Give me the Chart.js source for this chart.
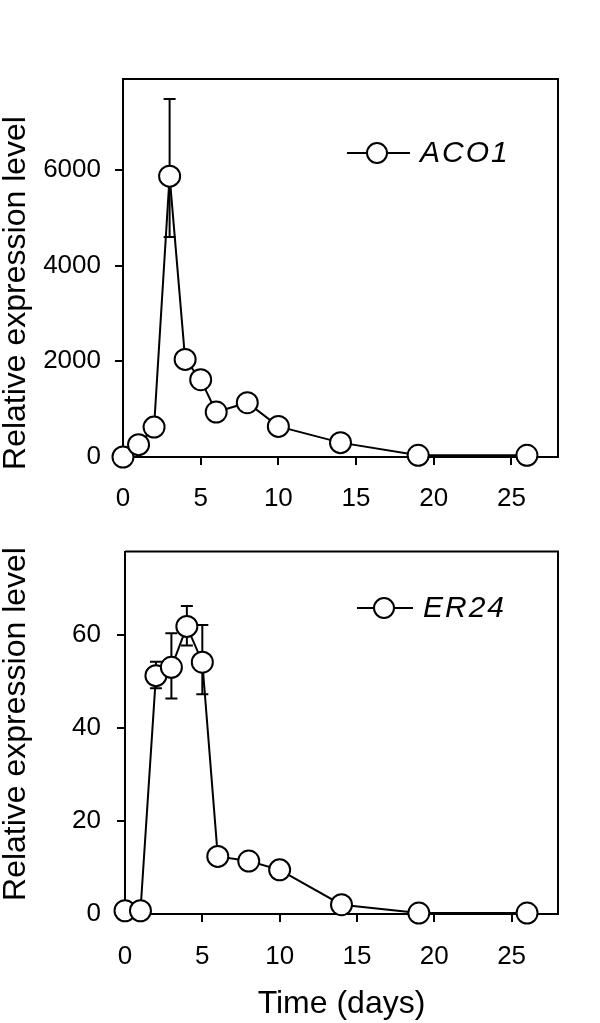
<!DOCTYPE html>
<html>
<head>
<meta charset="utf-8">
<script src="https://cdn.jsdelivr.net/npm/chart.js@4.4.0/dist/chart.umd.min.js"></script>
<style>
  body { margin: 0; background: #fff; }
  #wrap { position: relative; width: 600px; height: 1023px; }
  canvas { position: absolute; left: 0; }
</style>
</head>
<body>
<div id="wrap">
  <canvas id="aco" width="600" height="520" style="top:0"></canvas>
  <canvas id="er" width="600" height="503" style="top:520px"></canvas>
</div>
<script>
// data
const days = [0, 1, 2, 3, 4, 5, 6, 8, 10, 14, 19, 26];

const aco1 = [0, 258, 625, 5870, 2040, 1616, 940, 1135, 640, 300, 35, 35];
const aco1Hi = [null, null, null, 7480, null, null, null, null, null, null, null, null];
const aco1Lo = [null, null, null, 4600, null, null, null, null, null, null, null, null];

const er24 = [0.7, 0.7, 51.3, 53.1, 61.9, 54.2, 12.4, 11.4, 9.5, 2.0, 0.2, 0.2];
const er24Hi = [null, null, 54.3, 60.4, 66.3, 62.2, null, null, null, null, null, null];
const er24Lo = [null, null, 48.6, 46.4, 57.8, 47.3, null, null, null, null, null, null];

const xTicks = [0, 5, 10, 15, 20, 25];
const acoTicks = [0, 2000, 4000, 6000];
const erTicks = [0, 20, 40, 60];

Chart.defaults.font.family = "'Liberation Sans', Arial, sans-serif";
Chart.defaults.color = '#000';

// error bars, drawn under the points
const errorBars = {
  id: 'errorBars',
  beforeDatasetsDraw(chart, args, opts) {
    const { ctx, scales: { x, y } } = chart;
    ctx.save();
    ctx.strokeStyle = '#000';
    ctx.lineWidth = 2;
    days.forEach((d, i) => {
      if (opts.hi[i] == null) return;
      const px = x.getPixelForValue(d);
      const yh = y.getPixelForValue(opts.hi[i]);
      const yl = y.getPixelForValue(opts.lo[i]);
      ctx.beginPath();
      ctx.moveTo(px, yh); ctx.lineTo(px, yl);
      ctx.moveTo(px - 6, yh); ctx.lineTo(px + 6, yh);
      ctx.moveTo(px - 6, yl); ctx.lineTo(px + 6, yl);
      ctx.stroke();
    });
    ctx.restore();
  }
};

// top and right sides of the box
const frame = {
  id: 'frame',
  beforeDatasetsDraw(chart) {
    const { ctx, chartArea: a } = chart;
    ctx.save();
    ctx.strokeStyle = '#000';
    ctx.lineWidth = 2;
    ctx.beginPath();
    ctx.moveTo(a.left, a.top); ctx.lineTo(a.right, a.top); ctx.lineTo(a.right, a.bottom);
    ctx.stroke();
    ctx.restore();
  }
};

// line + open circle + italic name
const lineLegend = {
  id: 'lineLegend',
  afterDraw(chart, args, o) {
    const ctx = chart.ctx;
    ctx.save();
    ctx.strokeStyle = '#000';
    ctx.lineWidth = 2;
    ctx.beginPath();
    ctx.moveTo(o.x1, o.y); ctx.lineTo(o.x2, o.y);
    ctx.stroke();
    ctx.beginPath();
    ctx.arc(o.cx, o.y, 10, 0, Math.PI * 2);
    ctx.fillStyle = '#fff';
    ctx.fill();
    ctx.stroke();
    ctx.fillStyle = '#000';
    ctx.font = "italic 30px 'Liberation Sans', Arial, sans-serif";
    ctx.letterSpacing = '2px';
    ctx.textBaseline = 'middle';
    ctx.textAlign = 'left';
    ctx.fillText(chart.data.datasets[0].label, o.tx, o.y + 1);
    ctx.restore();
  }
};

// rotated y title
const yTitle = {
  id: 'yTitle',
  afterDraw(chart, args, o) {
    const ctx = chart.ctx;
    ctx.save();
    ctx.translate(o.x, o.y);
    ctx.rotate(-Math.PI / 2);
    ctx.fillStyle = '#000';
    ctx.font = "32px 'Liberation Sans', Arial, sans-serif";
    ctx.textAlign = 'center';
    ctx.textBaseline = 'alphabetic';
    ctx.fillText(o.text, 0, 0);
    ctx.restore();
  }
};

function makeChart(id, label, values, hi, lo, yMax, yTickVals, cfg) {
  return new Chart(document.getElementById(id), {
    type: 'line',
    data: {
      datasets: [{
        label: label,
        data: days.map((d, i) => ({ x: d, y: values[i] })),
        borderColor: '#000',
        borderWidth: 2,
        pointRadius: 10.5,
        pointBorderWidth: 2,
        pointBackgroundColor: '#fff',
        pointBorderColor: '#000',
        tension: 0,
        clip: false
      }]
    },
    options: {
      responsive: false,
      animation: false,
      layout: { padding: { top: cfg.top, right: 42, left: 0, bottom: 0 } },
      plugins: {
        legend: { display: false },
        tooltip: { enabled: false },
        errorBars: { hi: hi, lo: lo },
        lineLegend: cfg.legend,
        yTitle: cfg.yTitle
      },
      scales: {
        x: {
          type: 'linear',
          min: 0, max: 28,
          afterBuildTicks: s => { s.ticks = xTicks.map(v => ({ value: v })); },
          afterFit: s => { s.height = cfg.xHeight; },
          ticks: { font: { size: 26 }, padding: cfg.xPad, maxRotation: 0, callback: v => String(v) },
          grid: { drawOnChartArea: false, tickLength: 8, color: '#000', lineWidth: 2 },
          border: { color: '#000', width: 2 },
          title: cfg.xTitle || { display: false }
        },
        y: {
          min: 0, max: yMax,
          afterBuildTicks: s => { s.ticks = yTickVals.map(v => ({ value: v })); },
          afterFit: s => { s.width = cfg.yWidth; },
          ticks: { font: { size: 26 }, padding: cfg.yPad, callback: v => String(v) },
          grid: { drawOnChartArea: false, tickLength: 8, color: '#000', lineWidth: 2 },
          border: { color: '#000', width: 2 }
        }
      }
    },
    plugins: [frame, errorBars, lineLegend, yTitle]
  });
}

makeChart('aco', 'ACO1', aco1, aco1Hi, aco1Lo, 7900, acoTicks, {
  top: 79, xHeight: 63, yWidth: 123, xPad: 18, yPad: 14,
  legend: { x1: 347, x2: 410, cx: 377, y: 153, tx: 420 },
  yTitle: { x: 25, y: 293, text: 'Relative expression level' }
});

makeChart('er', 'ER24', er24, er24Hi, er24Lo, 78, erTicks, {
  top: 13, xHeight: 109, yWidth: 125, xPad: 19, yPad: 16,
  legend: { x1: 357, x2: 413, cx: 384, y: 88, tx: 423 },
  yTitle: { x: 25, y: 204, text: 'Relative expression level' },
  xTitle: { display: true, text: 'Time (days)', font: { size: 32 }, padding: 0 }
});
</script>
</body>
</html>
